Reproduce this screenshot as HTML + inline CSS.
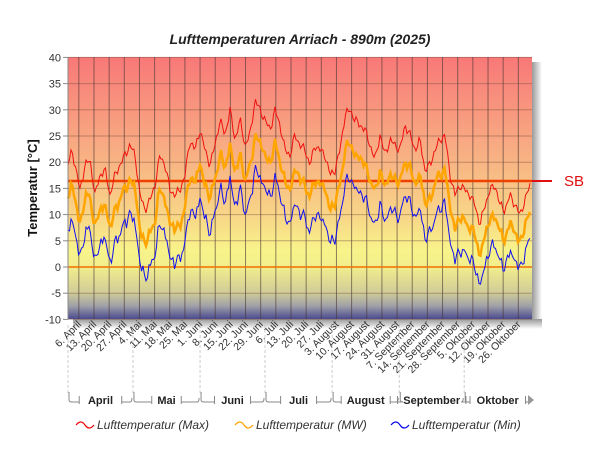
<!DOCTYPE html>
<html><head><meta charset="utf-8"><style>
body{margin:0;background:#fff;width:600px;height:450px;overflow:hidden;font-family:"Liberation Sans",sans-serif}
</style></head><body>
<svg id="s" width="600" height="450" xmlns="http://www.w3.org/2000/svg" font-family="Liberation Sans, sans-serif">
<defs>
<linearGradient id="bg" x1="0" y1="0" x2="0" y2="1">
<stop offset="0" stop-color="#f87878"/>
<stop offset="0.4" stop-color="#f8b484"/>
<stop offset="0.62" stop-color="#f8d888"/>
<stop offset="0.74" stop-color="#f8f48a"/>
<stop offset="0.8" stop-color="#f2ee8c"/>
<stop offset="0.9" stop-color="#d0cc98"/>
<stop offset="0.95" stop-color="#a0a0a8"/>
<stop offset="1" stop-color="#4a4a90"/>
</linearGradient>
<linearGradient id="sh" x1="0" y1="0" x2="1" y2="0"><stop offset="0" stop-color="#999"/><stop offset="1" stop-color="#fff"/></linearGradient>
<linearGradient id="shb" x1="0" y1="0" x2="0" y2="1"><stop offset="0" stop-color="#999"/><stop offset="1" stop-color="#fff"/></linearGradient>
</defs>
<text x="300" y="44" text-anchor="middle" font-size="14" font-weight="bold" font-style="italic" fill="#222">Lufttemperaturen Arriach - 890m (2025)</text>
<rect x="532" y="62" width="10" height="263" fill="url(#sh)"/>
<rect x="73" y="319" width="469" height="10" fill="url(#shb)"/>
<rect x="68" y="57" width="464" height="262" fill="url(#bg)"/>
<g id="grid"></g>
<line x1="68" y1="267" x2="532" y2="267" stroke="#f07000" stroke-width="1.5"/>
<line x1="68" y1="181" x2="532" y2="181" stroke="#f04000" stroke-width="2.5"/>
<line x1="532" y1="181" x2="552" y2="181" stroke="#e01010" stroke-width="2"/>
<text x="564" y="186" font-size="15" fill="#e01010">SB</text>
<g id="lines"></g>
<line x1="68" y1="57" x2="68" y2="319" stroke="#888"/>
<g id="yl" font-size="11" fill="#333" text-anchor="end"></g>
<text transform="translate(37,188) rotate(-90)" text-anchor="middle" font-size="13" font-weight="bold" fill="#111">Temperatur [°C]</text>
<g id="xl" font-size="10.5" fill="#333"></g>
<g id="mon" font-size="11" font-weight="bold" fill="#222"></g>
<g font-size="12" font-style="italic" fill="#333">
<path d="M76 425 q5 -6 9 0 t9 0" stroke="#e00" fill="none" stroke-width="1.2"/><text x="97" y="429">Lufttemperatur (Max)</text>
<path d="M235 425 q5 -6 9 0 t9 0" stroke="#ffa000" fill="none" stroke-width="1.2"/><text x="256" y="429">Lufttemperatur (MW)</text>
<path d="M391 425 q5 -6 9 0 t9 0" stroke="#00e" fill="none" stroke-width="1.2"/><text x="412" y="429">Lufttemperatur (Min)</text>
</g>
</svg>
<script>
var ns="http://www.w3.org/2000/svg";
function el(p,t,a,txt){var e=document.createElementNS(ns,t);for(var k in a)e.setAttribute(k,a[k]);if(txt!=null)e.textContent=txt;document.getElementById(p).appendChild(e);return e;}
for(var v=-10;v<=40;v+=5){var y=267-(v*26.2/5);
 el("grid","line",{x1:68,x2:532,y1:y,y2:y,stroke:"rgba(120,80,60,0.45)","stroke-width":1});
 el("grid","line",{x1:63,x2:68,y1:y,y2:y,stroke:"#888"});
 el("yl","text",{x:61,y:y+4},String(v));}
var labs=["6. April","13. April","20. April","27. April","4. Mai","11. Mai","18. Mai","25. Mai","1. Juni","8. Juni","15. Juni","22. Juni","29. Juni","6. Juli","13. Juli","20. Juli","27. Juli","3. August","10. August","17. August","24. August","31. August","7. September","14. September","21. September","28. September","5. Oktober","12. Oktober","19. Oktober","26. Oktober"];
var dpx=2.165;
for(var i=0;i<labs.length;i++){var x=68+(5+7*i)*dpx;
 el("grid","line",{x1:x,x2:x,y1:57,y2:319,stroke:"rgba(70,50,50,0.6)","stroke-width":1});
 el("xl","text",{transform:"translate("+(x+3)+",325) rotate(-45)","text-anchor":"end"},labs[i]);}
var mons=[["April",0,30],["Mai",30,61],["Juni",61,91],["Juli",91,122],["August",122,153],["September",153,183],["Oktober",183,214]];
mons.forEach(function(m){var a=68+m[1]*dpx,b=68+m[2]*dpx,c=(a+b)/2;
 el("mon","text",{x:c,y:404,"text-anchor":"middle"},m[0]);
 var w=m[0].length*6.5/2+5;
 el("mon","path",{d:"M"+(a+1)+" 392 v8 q0 2 3 2 H"+(c-w)+" M"+(c-w)+" 396 v8 M"+(c+w)+" 396 v8 M"+(c+w)+" 402 H"+(b-3)+" q2 0 2 -4",stroke:"#888",fill:"none"});
 el("mon","line",{x1:a,x2:a,y1:325,y2:395,stroke:"#ccc","stroke-dasharray":"3,2"});});
el("mon","path",{d:"M528 395 l6 5 l-6 5z",fill:"#999"});
var mx=[[68,165],[72,150],[75,165],[80,190],[85,165],[90,160],[95,195],[100,175],[105,170],[110,195],[115,175],[120,165],[125,155],[130,145],[135,155],[140,195],[145,210],[150,200],[155,185],[160,155],[165,165],[170,190],[175,195],[180,190],[185,175],[190,140],[195,150],[200,130],[205,150],[210,165],[215,145],[220,120],[225,135],[230,110],[235,140],[240,120],[245,145],[250,135],[255,100],[260,110],[265,120],[270,130],[275,110],[280,125],[285,150],[290,155],[295,135],[300,145],[305,150],[310,165],[315,145],[320,150],[325,155],[330,175],[335,170],[340,150],[345,115],[350,110],[355,120],[360,125],[365,130],[370,145],[375,160],[380,135],[385,155],[390,140],[395,145],[400,150],[405,125],[410,135],[415,150],[420,140],[425,170],[430,165],[435,150],[440,140],[445,135],[450,175],[455,195],[460,185],[465,190],[470,195],[475,205],[480,225],[485,205],[490,190],[495,185],[500,205],[505,210],[510,195],[515,205],[520,215],[525,200],[530,185]];
function interp(x){for(var i=0;i<mx.length-1;i++){if(x<=mx[i+1][0]){var t=(x-mx[i][0])/(mx[i+1][0]-mx[i][0]);return mx[i][1]*(1-t)+mx[i+1][1]*t;}}return mx[mx.length-1][1];}
var pm="",pa="",pn="";
for(var x=68;x<=531;x+=1.5){var y=interp(x)+3*Math.sin(x*1.3)+2*Math.sin(x*0.7);
 var off=x<440?68:68-(x-440)*0.17;
 var mn=y+off+3*Math.sin(x*0.9+1)+1.5*Math.sin(x*2.1);
 var av=(y+mn)/2+1.5*Math.sin(x*0.5);
 var c=x==68?"M":"L";pm+=c+x+" "+y.toFixed(1);pn+=c+x+" "+mn.toFixed(1);pa+=c+x+" "+av.toFixed(1);}
el("lines","path",{d:pn,stroke:"#1010f0",fill:"none","stroke-width":1});
el("lines","path",{d:pa,stroke:"#ffa500",fill:"none","stroke-width":2.5});
el("lines","path",{d:pm,stroke:"#f01010",fill:"none","stroke-width":1});
</script>
</body></html>
